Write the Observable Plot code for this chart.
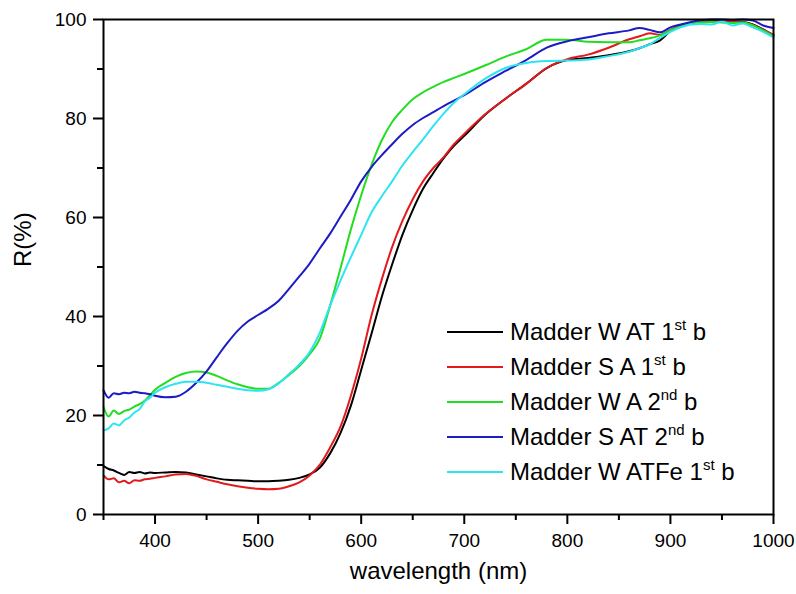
<!DOCTYPE html>
<html>
<head>
<meta charset="utf-8">
<script src="https://cdn.jsdelivr.net/npm/d3@7"></script>
<script src="https://cdn.jsdelivr.net/npm/@observablehq/plot@0.6"></script>
<style>
  body { margin: 0; background: #fff; }
  #wrap { position: relative; width: 796px; height: 594px; font-family: "Liberation Sans", Arial, sans-serif; color: #000; }
  #legend { position: absolute; left: 447px; top: 314px; }
  .row { display: flex; align-items: center; height: 35px; font-size: 24px; white-space: nowrap; }
  .sw { width: 56px; height: 2px; margin-right: 7px; }
  .sup { font-size: 15px; position: relative; top: -10px; }
</style>
</head>
<body>
<div id="wrap"></div>
<script>
const wavelength = [350,355,360,365,370,375,380,385,390,395,400,
  410,420,430,440,450,460,470,480,490,500,
  510,520,530,540,550,560,570,580,590,600,
  610,620,630,640,650,660,670,680,690,700,
  720,740,760,780,800,820,840,860,
  870,880,890,900,910,920,930,940,950,960,970,980,990,1000];

const madderWAT1 = [9.8,9.2,8.9,8.4,8.0,8.6,8.4,8.6,8.3,8.5,8.4,
  8.5,8.6,8.5,8.1,7.7,7.3,7.0,6.9,6.8,6.7,
  6.7,6.8,7.0,7.4,8.1,9.5,12.4,16.5,22.0,29.2,
  36.5,44.0,50.5,56.5,61.5,65.8,69.0,72.0,74.5,76.5,
  80.7,84.0,87.0,90.2,91.8,92.2,92.8,93.6,
  94.2,95.0,95.8,97.7,98.7,99.3,99.6,99.7,99.5,99.6,99.5,99.0,98.0,96.8];

const madderSA1 = [7.9,7.1,7.3,6.5,6.8,6.3,6.9,6.8,7.1,7.2,7.4,
  7.7,8.1,8.2,7.8,7.1,6.6,6.1,5.7,5.4,5.2,
  5.1,5.2,5.7,6.5,7.9,10.1,13.6,17.8,24.0,31.5,
  40.2,47.5,54.0,59.3,63.7,67.3,70.0,72.2,74.8,76.9,
  80.8,84.0,87.0,90.2,92.0,92.9,94.3,96.0,
  96.6,97.2,96.9,97.9,98.8,99.3,99.6,99.7,99.6,99.5,99.4,98.9,97.9,96.9];

const madderWA2 = [21.7,19.8,21.0,20.3,20.9,21.2,21.8,22.3,23.0,24.1,25.2,
  26.6,27.8,28.6,28.9,28.7,28.0,27.1,26.3,25.7,25.4,
  25.4,26.6,28.2,30.0,32.4,35.6,42.3,49.8,57.6,64.5,
  70.6,75.6,79.3,81.8,83.9,85.3,86.4,87.4,88.2,89.0,
  90.7,92.5,94.0,95.9,95.9,95.5,95.4,95.4,
  95.8,96.2,96.8,97.8,98.6,99.2,99.4,99.5,99.4,99.3,99.4,98.8,97.8,96.6];

const madderSAT2 = [25.1,23.6,24.5,24.3,24.6,24.5,24.8,24.6,24.5,24.3,24.0,
  23.7,23.8,24.8,26.6,28.9,31.8,34.6,37.1,39.0,40.3,
  41.6,43.2,45.6,48.1,50.7,53.8,56.8,60.2,63.6,67.3,
  70.2,72.6,74.8,76.9,78.7,80.1,81.3,82.5,83.6,84.7,
  87.3,89.6,91.8,94.3,95.6,96.4,97.2,97.8,
  98.3,97.9,97.4,98.4,99.0,99.5,99.9,100,100,99.9,100,99.8,98.8,98.3];

const madderWATFe1 = [17.0,17.4,18.4,18.0,19.0,19.6,20.6,21.3,22.8,23.6,24.6,
  25.7,26.4,26.8,26.8,26.6,26.2,25.8,25.4,25.1,25.0,
  25.3,26.5,28.4,30.3,32.8,36.8,42.3,47.3,52.0,56.5,
  61.0,64.3,67.3,70.5,73.2,75.8,78.5,81.0,83.2,84.9,
  88.0,90.2,91.2,91.6,91.7,91.9,92.6,93.5,
  94.2,95.0,96.3,97.5,98.4,99.0,99.1,99.0,99.6,98.8,99.2,98.4,97.5,96.4];

const seriesNames = ["Madder W AT 1st b", "Madder S A 1st b", "Madder W A 2nd b", "Madder S AT 2nd b", "Madder W ATFe 1st b"];
const seriesLabels = [["Madder W AT 1","st"," b"],["Madder S A 1","st"," b"],["Madder W A 2","nd"," b"],["Madder S AT 2","nd"," b"],["Madder W ATFe 1","st"," b"]];
const seriesColors = ["#000000", "#e3191c", "#22dd22", "#1c1cc4", "#2ee4f0"];
const seriesValues = [madderWAT1, madderSA1, madderWA2, madderSAT2, madderWATFe1];

const xMajorTicks = [400, 500, 600, 700, 800, 900, 1000];
const xMinorTicks = [350, 450, 550, 650, 750, 850, 950];
const yMajorTicks = [0, 20, 40, 60, 80, 100];
const yMinorTicks = [10, 30, 50, 70, 90];

const rows = seriesNames.flatMap((name, i) =>
  wavelength.map((w, j) => ({series: name, wl: w, r: seriesValues[i][j]})));

const chart = Plot.plot({
  width: 796,
  height: 594,
  marginLeft: 103,
  marginRight: 23,
  marginTop: 19,
  marginBottom: 80,
  style: {fontFamily: "'Liberation Sans', Arial, sans-serif", color: "#000", background: "#fff"},
  x: {domain: [350, 1000]},
  y: {domain: [0, 100]},
  color: {domain: seriesNames, range: seriesColors},
  marks: [
    Plot.axisX({ticks: xMinorTicks, tickSize: 6, strokeWidth: 2, tickFormat: () => "", label: null}),
    Plot.axisX({ticks: xMajorTicks, tickSize: 10, tickPadding: 9, strokeWidth: 2, fontSize: 19, tickFormat: d => String(d), label: null}),
    Plot.axisY({ticks: yMinorTicks, tickSize: 6, strokeWidth: 2, tickFormat: () => "", label: null}),
    Plot.axisY({ticks: yMajorTicks, tickSize: 10, tickPadding: 7, strokeWidth: 2, fontSize: 19, tickFormat: d => String(d), label: null}),
    Plot.line(rows, {x: "wl", y: "r", stroke: "series", strokeWidth: 2, curve: "monotone-x"}),
    Plot.frame({strokeWidth: 2}),
    Plot.text(["wavelength (nm)"], {frameAnchor: "bottom", dy: 64, fontSize: 24}),
    Plot.text(["R(%)"], {frameAnchor: "left", dx: -80, rotate: -90, fontSize: 24})
  ]
});

const wrap = document.getElementById("wrap");
wrap.appendChild(chart);

const legend = document.createElement("div");
legend.id = "legend";
seriesLabels.forEach((parts, i) => {
  const row = document.createElement("div");
  row.className = "row";
  const sw = document.createElement("div");
  sw.className = "sw";
  sw.style.background = seriesColors[i];
  row.appendChild(sw);
  const t = document.createElement("span");
  t.appendChild(document.createTextNode(parts[0]));
  const s = document.createElement("span");
  s.className = "sup";
  s.textContent = parts[1];
  t.appendChild(s);
  t.appendChild(document.createTextNode(parts[2]));
  row.appendChild(t);
  legend.appendChild(row);
});
wrap.appendChild(legend);
</script>
</body>
</html>
